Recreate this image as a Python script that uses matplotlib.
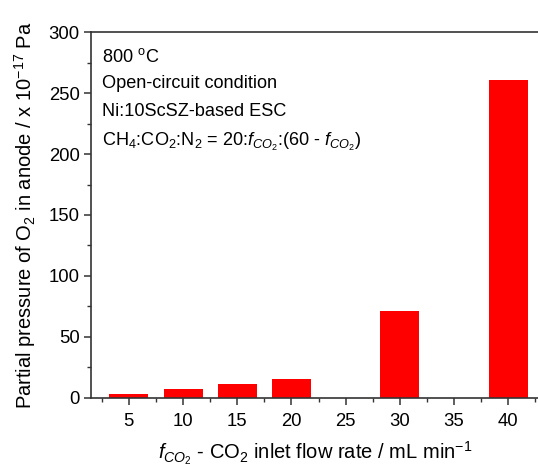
import matplotlib
matplotlib.use("Agg")
import matplotlib.pyplot as plt
from matplotlib.ticker import MultipleLocator

plt.rcParams['font.family'] = ['Liberation Sans', 'DejaVu Sans']
plt.rcParams['mathtext.fontset'] = 'custom'
plt.rcParams['mathtext.rm'] = 'Liberation Sans'
plt.rcParams['mathtext.it'] = 'Liberation Sans:italic'
plt.rcParams['mathtext.bf'] = 'Liberation Sans:bold'

# CO2 inlet flow rate (mL/min) and O2 partial pressure (x1e-17 Pa)
flow_rates = [5, 10, 15, 20, 30, 40]
o2_pressure = [3.0, 7.4, 11.7, 15.8, 71.3, 261.0]
x_ticks = [5, 10, 15, 20, 25, 30, 35, 40]
y_ticks = [0, 50, 100, 150, 200, 250, 300]

fig = plt.figure(figsize=(5.38, 4.68), dpi=100)
ax = fig.add_axes([0.169, 0.1496, 0.835, 0.782])

ax.bar(flow_rates, o2_pressure, width=3.6, color='#ff0000', edgecolor='none')

ax.set_xlim(1.5, 42.95)
ax.set_ylim(0, 300)
ax.set_xticks(x_ticks)
ax.set_yticks(y_ticks)
ax.xaxis.set_minor_locator(MultipleLocator(2.5))
ax.yaxis.set_minor_locator(MultipleLocator(25))

spine_color = '#333333'
for side in ['left', 'bottom', 'top']:
    ax.spines[side].set_color(spine_color)
    ax.spines[side].set_linewidth(1.2)
ax.spines['right'].set_visible(False)

ax.tick_params(axis='both', which='major', direction='out', length=5, width=1.1,
               color=spine_color, labelsize=13.3, pad=3)
ax.tick_params(axis='both', which='minor', direction='out', length=3, width=1.0,
               color=spine_color)
ax.tick_params(axis='x', which='both', top=False)
ax.tick_params(axis='x', which='major', pad=6)

ax.set_xlabel(r'$f_{CO_2}$ - CO$_2$ inlet flow rate / mL min$^{\mathrm{-1}}$',
              fontsize=14.5, labelpad=7)
ax.set_ylabel(r'Partial pressure of O$_2$ in anode / x 10$^{\mathrm{-17}}$ Pa',
              fontsize=14.5, labelpad=8)

notes = [
    r'800 $^{\mathrm{o}}$C',
    'Open-circuit condition',
    'Ni:10ScSZ-based ESC',
    r'CH$_4$:CO$_2$:N$_2$ = 20:$f_{CO_2}$:(60 - $f_{CO_2}$)',
]
note_y = [57, 84, 112, 142]
for txt, py in zip(notes, note_y):
    fig.text(102 / 538, 1 - py / 468, txt, fontsize=13.1, va='center', ha='left')

fig.savefig('out.png', dpi=100)
